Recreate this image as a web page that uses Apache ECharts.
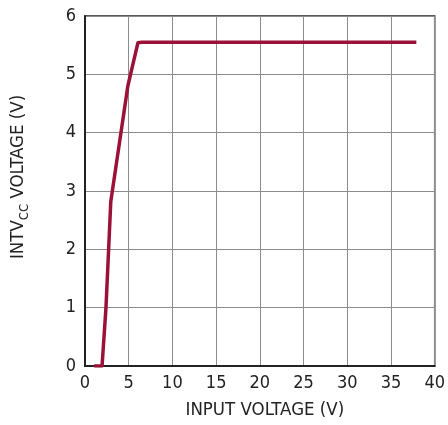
<!DOCTYPE html>
<html>
<head>
<meta charset="utf-8">
<script src="https://cdn.jsdelivr.net/npm/echarts@6/dist/echarts.min.js"></script>
<style>
  html, body { margin: 0; padding: 0; background: #fff; }
  #chart { width: 448px; height: 425px; }
</style>
</head>
<body>
<div id="chart"></div>
<script>
// INTVcc regulator output versus input voltage
const inputVoltage = [1.05, 1.95, 2.4, 2.95, 4.9, 6.05, 6.5, 37.9];
const intvccVoltage = [0, 0, 1.0, 2.82, 4.8, 5.54, 5.55, 5.55];
const xTicks = [0, 5, 10, 15, 20, 25, 30, 35, 40];
const yTicks = [0, 1, 2, 3, 4, 5, 6];

const FONT = '"Liberation Sans Narrow", "DejaVu Sans Condensed", sans-serif';
const TEXT = '#222';

const chart = echarts.init(document.getElementById('chart'), null, { renderer: 'canvas' });
chart.setOption({
  animation: false,
  backgroundColor: '#fff',
  grid: {
    left: 85, right: 11, top: 16, bottom: 56,
    show: true, borderColor: '#222', borderWidth: 1.5
  },
  xAxis: {
    type: 'value',
    min: xTicks[0], max: xTicks[xTicks.length - 1], interval: 5,
    name: 'INPUT VOLTAGE (V)',
    nameLocation: 'middle', nameGap: 35,
    nameTextStyle: { fontFamily: FONT, fontSize: 18.5, color: TEXT, padding: [0, 0, 0, 10] },
    axisLine: { lineStyle: { color: '#222', width: 2 } },
    axisTick: { show: false },
    axisLabel: { fontFamily: FONT, fontSize: 18, color: TEXT, margin: 8 },
    splitLine: { lineStyle: { color: '#8c8c8c', width: 1 } }
  },
  yAxis: {
    type: 'value',
    min: yTicks[0], max: yTicks[yTicks.length - 1], interval: 1,
    name: '{a|INTV}{b|CC}{a| VOLTAGE (V)}',
    nameLocation: 'middle', nameGap: 57,
    nameTextStyle: {
      fontFamily: FONT, fontSize: 18.5, color: TEXT,
      padding: [0, 0, 0, 28],
      rich: {
        a: { fontFamily: FONT, fontSize: 18.5, color: TEXT, verticalAlign: 'bottom' },
        b: { fontFamily: FONT, fontSize: 13, color: TEXT, verticalAlign: 'bottom', padding: [0, 0, -3, 0] }
      }
    },
    axisLine: { lineStyle: { color: '#222', width: 2 } },
    axisTick: { show: false },
    axisLabel: { fontFamily: FONT, fontSize: 18, color: TEXT, margin: 9 },
    splitLine: { lineStyle: { color: '#8c8c8c', width: 1 } }
  },
  series: [{
    type: 'line',
    data: inputVoltage.map((v, i) => [v, intvccVoltage[i]]),
    showSymbol: false,
    lineStyle: { color: '#9b1239', width: 3.5, join: 'round', cap: 'butt' }
  }]
});
</script>
</body>
</html>
